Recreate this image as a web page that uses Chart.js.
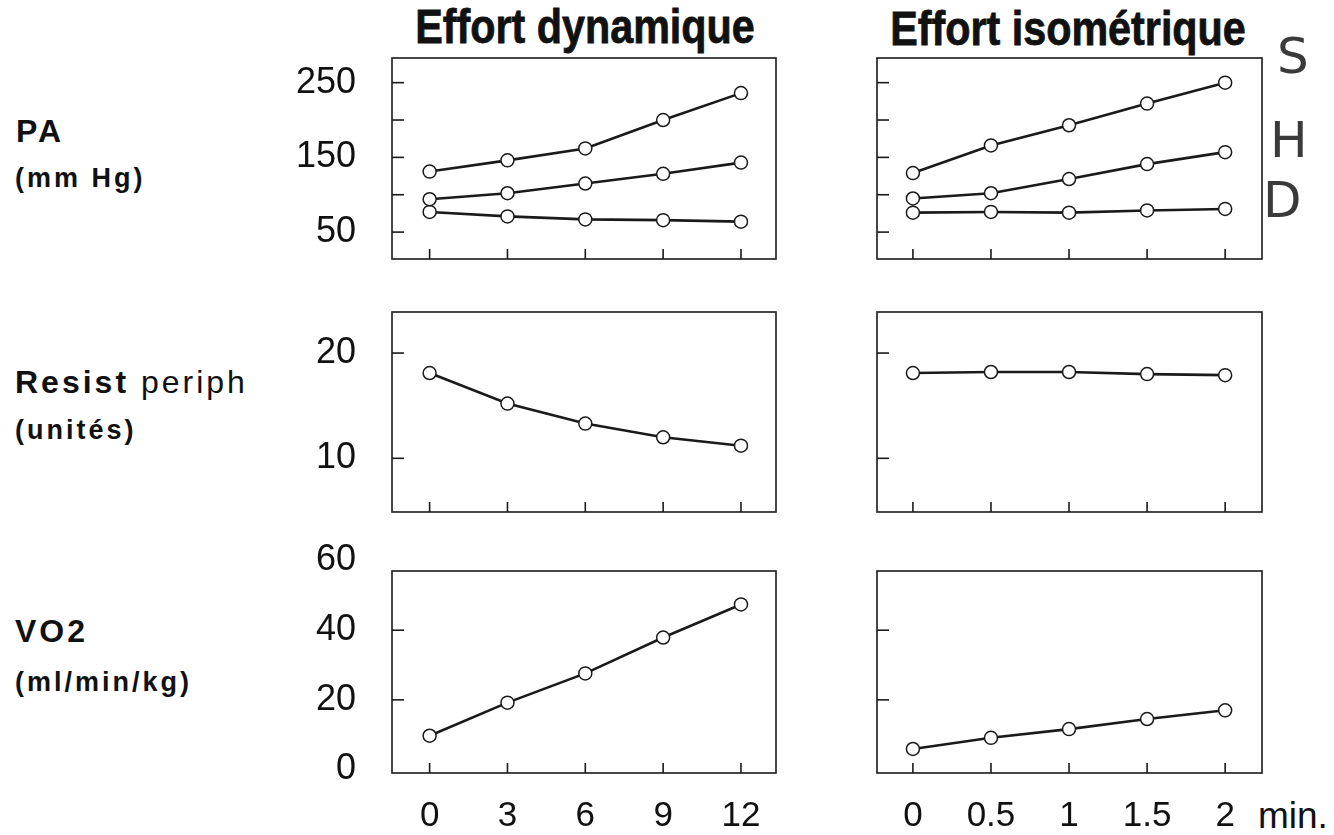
<!DOCTYPE html>
<html>
<head>
<meta charset="utf-8">
<script src="https://cdn.jsdelivr.net/npm/chart.js@4"></script>
<style>
  body { margin: 0; background: #fff; width: 1334px; height: 835px; position: relative; overflow: hidden;
         font-family: "Liberation Sans", Arial, sans-serif; color: #111; }
  canvas { position: absolute; }
  .txt { position: absolute; line-height: 1; white-space: nowrap; font-weight: bold; }
  .title { font-size: 48px; transform: scaleX(0.86); transform-origin: center top; text-align: center; width: 600px;
           -webkit-text-stroke: 0.8px #111; }
  .big { font-size: 32px; letter-spacing: 3px; }
  .small { font-size: 27px; letter-spacing: 3px; }
  .hand { position: absolute; line-height: 1; font-family: "DejaVu Sans", sans-serif; font-size: 50px; color: #3a3a3a; }
</style>
</head>
<body>
<div class="txt title" style="left:285px; top:3px;">Effort dynamique</div>
<div class="txt title" style="left:768px; top:5px;">Effort isométrique</div>

<div class="txt big" style="left:16px; top:115px;">PA</div>
<div class="txt small" style="left:15px; top:165px;">(mm Hg)</div>
<div class="txt big" style="left:15px; top:366px;">Resist <span style="font-weight:normal">periph</span></div>
<div class="txt small" style="left:15px; top:417px;">(unités)</div>
<div class="txt big" style="left:15px; top:615px;">VO2</div>
<div class="txt small" style="left:15px; top:669px;">(ml/min/kg)</div>

<div class="txt" style="left:1258px; top:797px; font-size:37px; font-weight:normal;">min.</div>

<div class="hand" style="left:1277px; top:31px;">S</div>
<div class="hand" style="left:1270px; top:115px;">H</div>
<div class="hand" style="left:1263px; top:175px;">D</div>

<canvas id="c1" width="534" height="243" style="left:250px; top:24px;"></canvas>
<canvas id="c2" width="403" height="243" style="left:867px; top:24px;"></canvas>
<canvas id="c3" width="534" height="242" style="left:250px; top:278px;"></canvas>
<canvas id="c4" width="403" height="242" style="left:867px; top:278px;"></canvas>
<canvas id="c5" width="534" height="298" style="left:250px; top:537px;"></canvas>
<canvas id="c6" width="403" height="298" style="left:867px; top:537px;"></canvas>

<script>
// time points
const dynTime = [0, 3, 6, 9, 12];        // minutes, effort dynamique
const isoTime = [0, 0.5, 1, 1.5, 2];     // minutes, effort isométrique

// PA (mm Hg): S = systolique, M = moyenne, D = diastolique
const paDynS = [131, 146, 162, 200, 236];
const paDynM = [94, 102, 115, 128, 143];
const paDynD = [77, 71, 67, 66, 64];
const paIsoS = [129, 166, 193, 222, 250];
const paIsoM = [95, 102, 121, 141, 157];
const paIsoD = [76, 77, 76, 79, 81];

// résistance périphérique (unités)
const rpDyn = [18.1, 15.2, 13.3, 12.0, 11.2];
const rpIso = [18.1, 18.2, 18.2, 18.0, 17.9];

// VO2 (ml/min/kg)
const vo2Dyn = [9.7, 19.2, 27.6, 37.9, 47.4];
const vo2Iso = [5.9, 9.1, 11.6, 14.5, 17.0];

// ticks
const paTicks = [50, 100, 150, 200, 250];
const paTickLabels = [50, 150, 250];
const rpTicks = [10, 20];
const vo2Ticks = [0, 20, 40, 60];
const dynTicks = [0, 3, 6, 9, 12];
const isoTicks = [0, 0.5, 1, 1.5, 2];

const ink = '#1a1a1a';

// box around plot area + small inward tick marks
const framePlugin = {
  id: 'frame',
  afterDraw(chart) {
    const { ctx, chartArea: a, scales } = chart;
    ctx.save();
    ctx.strokeStyle = ink;
    ctx.lineWidth = 1.6;
    ctx.strokeRect(a.left, a.top, a.right - a.left, a.bottom - a.top);
    scales.y.ticks.forEach(t => {
      const py = scales.y.getPixelForValue(t.value);
      if (py < a.top + 8 || py > a.bottom - 8) return;
      ctx.beginPath();
      ctx.moveTo(a.left, py);
      ctx.lineTo(a.left + 12, py);
      ctx.stroke();
    });
    scales.x.ticks.forEach(t => {
      const px = scales.x.getPixelForValue(t.value);
      ctx.beginPath();
      ctx.moveTo(px, a.bottom);
      ctx.lineTo(px, a.bottom - 10);
      ctx.stroke();
    });
    ctx.restore();
  }
};

function pairs(xs, ys) {
  return xs.map((x, i) => ({ x: x, y: ys[i] }));
}

function panel(id, opt) {
  const datasets = opt.series.map(s => ({
    data: pairs(opt.time, s),
    borderColor: ink,
    borderWidth: 2.6,
    pointRadius: 6.5,
    pointBorderWidth: 1.5,
    pointBorderColor: ink,
    pointBackgroundColor: '#fff',
    tension: 0,
    clip: false
  }));
  return new Chart(document.getElementById(id), {
    type: 'line',
    data: { datasets: datasets },
    options: {
      responsive: false,
      animation: false,
      layout: { padding: { top: 34, right: 6, left: 0, bottom: 0 } },
      plugins: { legend: { display: false }, tooltip: { enabled: false } },
      scales: {
        x: {
          type: 'linear',
          min: opt.xMin,
          max: opt.xMax,
          afterBuildTicks: sc => { sc.ticks = opt.xTicks.map(v => ({ value: v })); },
          afterFit: sc => {
            sc.height = opt.bottom ? 62 : 6;
            sc.paddingLeft = 0; sc.paddingRight = 0;
          },
          grid: { display: false },
          border: { display: false },
          ticks: {
            display: opt.bottom,
            autoSkip: false,
            maxRotation: 0,
            padding: 14,
            color: '#111',
            font: { family: '"Liberation Sans", Arial, sans-serif', size: 35 },
            callback: v => String(v)
          }
        },
        y: {
          type: 'linear',
          min: opt.yMin,
          max: opt.yMax,
          afterBuildTicks: sc => { sc.ticks = opt.yTicks.map(v => ({ value: v })); },
          afterFit: sc => {
            sc.width = opt.left ? 142 : 10;
            sc.paddingTop = 0; sc.paddingBottom = 0;
          },
          grid: { display: false },
          border: { display: false },
          ticks: {
            display: opt.left,
            autoSkip: false,
            padding: 28,
            color: '#111',
            font: { family: '"Liberation Sans", Arial, sans-serif', size: 36 },
            callback: v => (opt.yLabels && !opt.yLabels.includes(v)) ? '' : String(v)
          }
        }
      }
    },
    plugins: [framePlugin]
  });
}

const dynX = { time: dynTime, xMin: -1.45, xMax: 13.35, xTicks: dynTicks };
const isoX = { time: isoTime, xMin: -0.23, xMax: 2.236, xTicks: isoTicks };
const paY = { yMin: 14, yMax: 283, yTicks: paTicks, yLabels: paTickLabels };
const rpY = { yMin: 4.9, yMax: 23.9, yTicks: rpTicks };
const vo2Y = { yMin: -1, yMax: 57, yTicks: vo2Ticks };

panel('c1', Object.assign({}, dynX, paY, { series: [paDynS, paDynM, paDynD], left: true, bottom: false }));
panel('c2', Object.assign({}, isoX, paY, { series: [paIsoS, paIsoM, paIsoD], left: false, bottom: false }));
panel('c3', Object.assign({}, dynX, rpY, { series: [rpDyn], left: true, bottom: false }));
panel('c4', Object.assign({}, isoX, rpY, { series: [rpIso], left: false, bottom: false }));
panel('c5', Object.assign({}, dynX, vo2Y, { series: [vo2Dyn], left: true, bottom: true }));
panel('c6', Object.assign({}, isoX, vo2Y, { series: [vo2Iso], left: false, bottom: true }));
</script>
</body>
</html>
